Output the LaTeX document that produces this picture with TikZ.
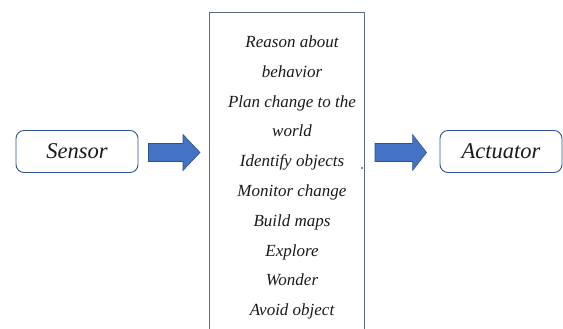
\documentclass[tikz,border=0pt]{standalone}
\usepackage{fontspec}
\setmainfont{Liberation Serif}
\usepackage{xcolor}
\usepackage{tikz}
\usetikzlibrary{calc,positioning}
\definecolor{boxline}{HTML}{2F5597}
\definecolor{arrowfill}{HTML}{4472C4}
\definecolor{arrowline}{HTML}{2F528F}
\definecolor{panel}{HTML}{5B6B8C}
\definecolor{ink}{HTML}{1A1A1A}
\tikzset{
  unit/.style={draw=boxline, line width=0.9pt, rounded corners=8pt, fill=white,
    minimum width=122pt, minimum height=42pt, inner sep=0pt,
    text=ink, font=\fontsize{22.5}{26}\selectfont\itshape},
  blockarrow/.style={fill=arrowfill, draw=arrowline, line width=0.6pt},
  task/.style={text=ink, anchor=base, inner sep=0pt,
    font=\fontsize{17}{20}\selectfont\itshape}
}
% block arrow from #1 to #2, head starts #3 before the tip
\newcommand{\blockarr}[3]{%
  \draw[blockarrow] ($(#1)+(0,-9)$) -- ($(#2)+(-#3,-9)$) -- ($(#2)+(-#3,-18)$)
    -- (#2) -- ($(#2)+(-#3,18)$) -- ($(#2)+(-#3,9)$) -- ($(#1)+(0,9)$) -- cycle;}

\begin{document}
\begin{tikzpicture}[x=1pt,y=-1pt]
  \useasboundingbox (0,0) rectangle (563,329);

  % input and output units
  \node[unit] (sensor) at (77,151.5) {Sensor};
  \node[unit] (actuator) at (501,151.5) {Actuator};

  % processing panel, runs off the bottom
  \draw[panel, line width=0.7pt] (209,335) -- (209,12) -- (364,12) -- (364,335);
  \fill[ink] (362,168) circle (0.9pt);

  % list of behaviours
  \foreach \t [count=\i] in {Reason about, behavior, Plan change to the, world,
      Identify objects, Monitor change, Build maps, Explore, Wonder, Avoid object}
    \node[task] (item\i) at (292,{47.5+29.8*(\i-1)}) {\t};

  % block arrows
  \coordinate (inA) at ($(sensor.east)+(10,1)$);
  \coordinate (inB) at (200,152.5);
  \coordinate (outA) at (375,152.5);
  \coordinate (outB) at ($(actuator.west)+(-13,1)$);
  \blockarr{inA}{inB}{17}
  \blockarr{outA}{outB}{14}
\end{tikzpicture}
\end{document}
